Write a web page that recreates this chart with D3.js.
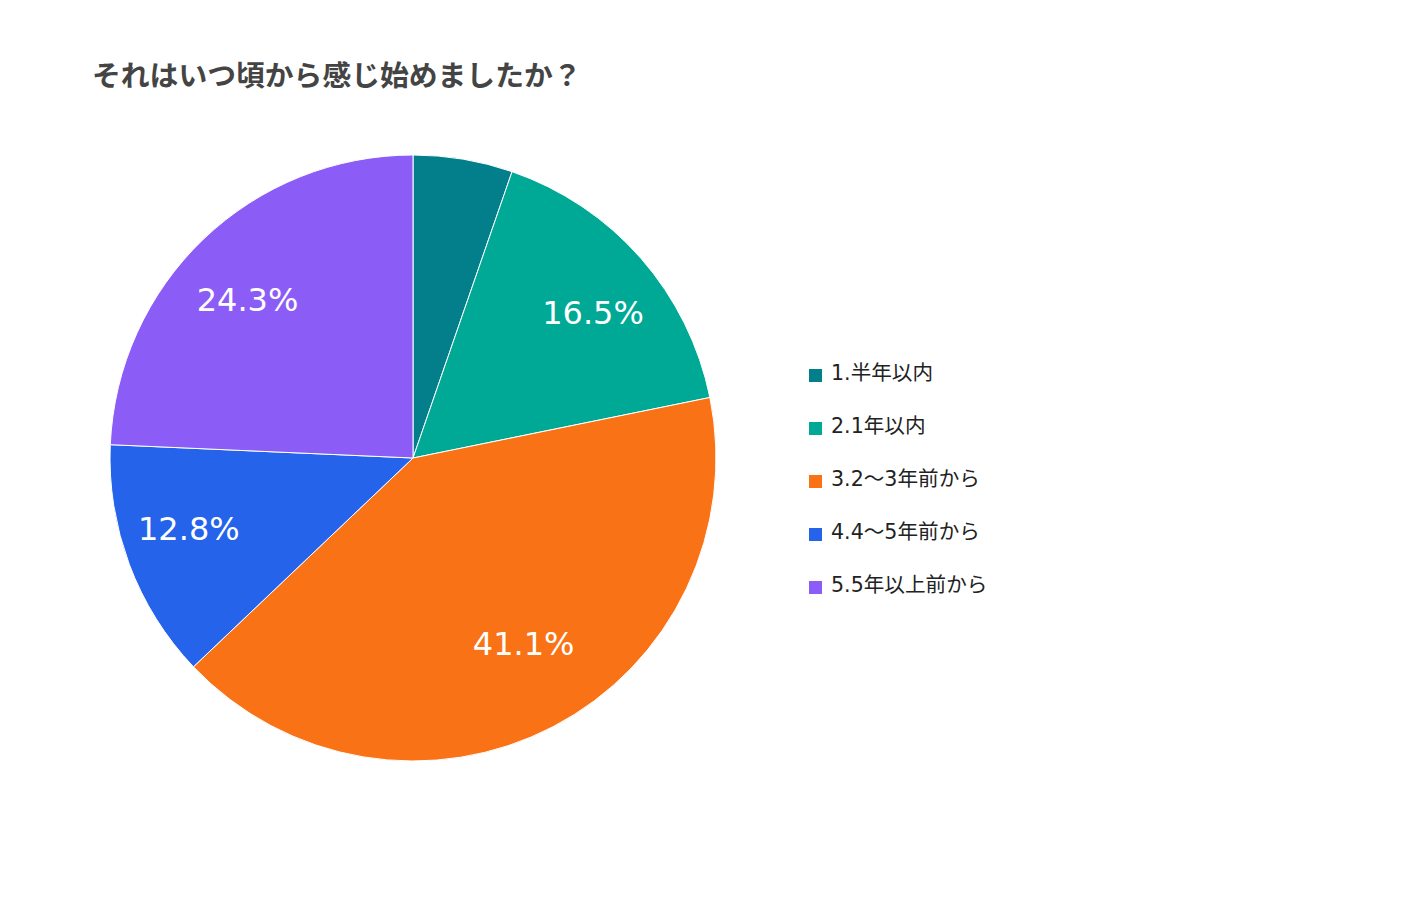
<!DOCTYPE html>
<html><head><meta charset="utf-8">
<script src="https://cdn.jsdelivr.net/npm/d3@7/dist/d3.min.js"></script>
<style>
html,body{margin:0;padding:0;background:#fff;}
svg{display:block;}
</style></head>
<body>
<svg id="chart" width="1423" height="909"></svg>
<script>
const title = "それはいつ頃から感じ始めましたか？";
const categories = ["1.半年以内", "2.1年以内", "3.2～3年前から", "4.4～5年前から", "5.5年以上前から"];
const values = [5.3, 16.5, 41.1, 12.8, 24.3];
const colors = ["#027F8B", "#00A996", "#F97316", "#2563EB", "#8B5CF6"];

const svg = d3.select("#chart");
const cx = 413, cy = 458, R = 303;

svg.append("text")
  .attr("x", 92).attr("y", 86)
  .attr("font-family", "'Noto Sans CJK JP', 'Noto Sans', sans-serif")
  .attr("font-weight", "bold")
  .attr("font-size", 28.8)
  .attr("fill", "#444")
  .text(title);

const pie = d3.pie().sort(null).value(d => d)(values);
const arc = d3.arc().innerRadius(0).outerRadius(R);

const g = svg.append("g").attr("transform", `translate(${cx},${cy})`);
g.selectAll("path").data(pie).join("path")
  .attr("d", arc)
  .attr("fill", (d, i) => colors[i])
  .attr("stroke", "#fff")
  .attr("stroke-width", 1);

// labels on an ellipse around the bisector (wider horizontally, as in the reference)
const rx = R * 0.79, ry = R * 0.705;
g.selectAll("text.lbl").data(pie.filter(d => d.data >= 10)).join("text")
  .attr("class", "lbl")
  .attr("transform", d => {
    const a = (d.startAngle + d.endAngle) / 2;
    return `translate(${rx * Math.sin(a)},${-ry * Math.cos(a)})`;
  })
  .attr("text-anchor", "middle")
  .attr("dominant-baseline", "central")
  .attr("dy", "-0.12em")
  .attr("font-family", "'DejaVu Sans', Verdana, sans-serif")
  .attr("font-size", 32)
  .attr("fill", "#fff")
  .text(d => d.data.toFixed(1) + "%");

const leg = svg.append("g").attr("transform", "translate(809,0)");
const rowY = d3.scalePoint().domain(categories).range([380, 592]);
const items = leg.selectAll("g").data(categories).join("g")
  .attr("transform", d => `translate(0,${rowY(d)})`);
items.append("rect").attr("x", 0).attr("y", -11).attr("width", 13).attr("height", 13)
  .attr("fill", (d, i) => colors[i]);
items.append("text").attr("x", 22).attr("y", 0)
  .attr("font-family", "'DejaVu Sans', 'Noto Sans CJK JP', sans-serif")
  .attr("font-size", 20.6)
  .attr("fill", "#222")
  .text(d => d);
</script>
</body></html>
